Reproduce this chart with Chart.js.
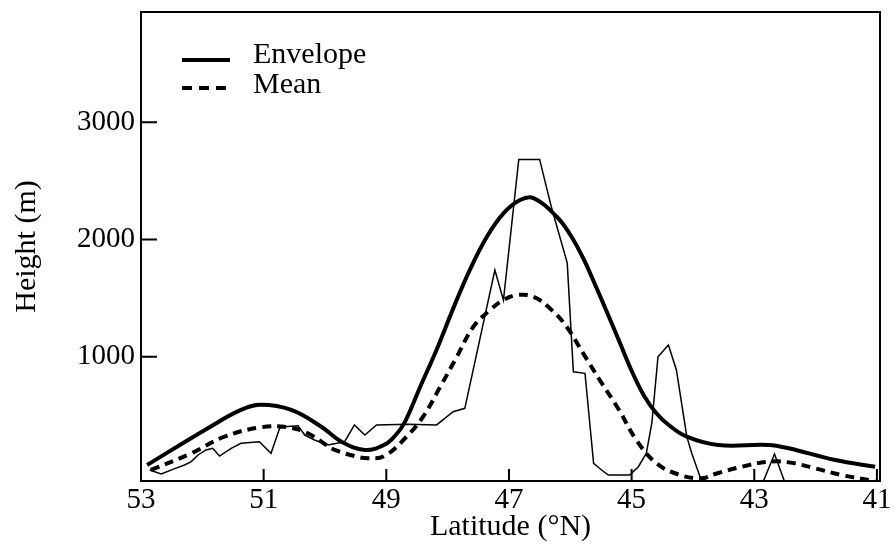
<!DOCTYPE html>
<html>
<head>
<meta charset="utf-8">
<script src="https://cdn.jsdelivr.net/npm/chart.js@4.4.1/dist/chart.umd.min.js"></script>
<style>
  html, body { margin: 0; padding: 0; background: #ffffff; }
  #wrap { width: 895px; height: 556px; }
</style>
</head>
<body>
<div id="wrap"><canvas id="c" width="895" height="556"></canvas></div>
<script>
// ---- data ----
const xTickLabels = [53, 51, 49, 47, 45, 43, 41];
const yTickLabels = [1000, 2000, 3000];

const envelopeLat = [52.9, 51.91, 51.37, 51.04, 50.55, 50.06, 49.73, 49.35, 49.03, 48.85, 48.7, 48.45, 48.18, 47.91, 47.64, 47.36, 47.09, 46.82, 46.6, 46.22, 46.0, 45.79, 45.6, 45.41, 45.2, 45.0, 44.8, 44.6, 44.4, 44.1, 43.59, 42.77, 42.44, 41.68, 41.03];
const envelopeHeight = [77, 390, 546, 590, 546, 403, 275, 205, 250, 330, 440, 740, 1060, 1410, 1739, 2023, 2222, 2336, 2352, 2194, 2040, 1840, 1620, 1390, 1130, 880, 670, 520, 420, 318, 247, 247, 219, 119, 62];

const meanLat = [52.84, 52.18, 51.64, 51.04, 50.6, 50.28, 49.98, 49.84, 49.52, 49.3, 49.03, 48.67, 48.4, 48.12, 47.85, 47.58, 47.31, 47.09, 46.87, 46.6, 46.33, 46.06, 45.79, 45.52, 45.21, 44.92, 44.59, 44.21, 43.86, 43.64, 43.2, 42.77, 42.44, 42.01, 41.57, 41.03];
const meanHeight = [34, 176, 318, 398, 398, 347, 247, 205, 153, 134, 153, 318, 489, 744, 1000, 1256, 1398, 1483, 1526, 1511, 1412, 1256, 1029, 801, 550, 287, 89, -9, -37, 0, 62, 104, 99, 48, -10, -60];

const terrainLat = [52.86, 52.67, 52.46, 52.29, 52.18, 52.07, 51.94, 51.83, 51.72, 51.53, 51.37, 51.07, 50.88, 50.74, 50.66, 50.44, 50.33, 50.17, 49.95, 49.68, 49.52, 49.35, 49.16, 48.65, 48.18, 47.91, 47.72, 47.23, 47.09, 46.84, 46.5, 46.31, 46.05, 45.95, 45.76, 45.62, 45.49, 45.38, 45.03, 44.89, 44.76, 44.67, 44.57, 44.4, 44.27, 44.1, 44.02, 43.86, 43.4, 42.85, 42.67, 42.51];
const terrainHeight = [34, 0, 43, 77, 105, 162, 205, 219, 153, 219, 262, 275, 176, 390, 403, 412, 332, 290, 247, 275, 418, 332, 418, 425, 418, 531, 560, 1739, 1483, 2683, 2683, 2279, 1800, 872, 858, 91, 34, -9, -9, 62, 176, 435, 1000, 1100, 887, 318, 176, -60, null, -60, 170, -60];

const seriesNames = ['Envelope', 'Mean', 'Terrain'];
const xTitle = 'Latitude (°N)';
const yTitle = 'Height (m)';

// ---- helpers ----
function pairs(xs, ys) { return xs.map((x, i) => ({ x: x, y: ys[i] })); }
const SERIF = "'Liberation Serif', 'DejaVu Serif', serif";

const framePlugin = {
  id: 'frameTicks',
  afterDraw(chart) {
    const ctx = chart.ctx;
    const a = chart.chartArea;
    const xs = chart.scales.x, ys = chart.scales.y;
    ctx.save();
    ctx.strokeStyle = '#000';
    ctx.lineWidth = 2;
    ctx.strokeRect(a.left, a.top, a.right - a.left, a.bottom - a.top);
    ctx.beginPath();
    xs.ticks.forEach(t => {
      const px = xs.getPixelForValue(t.value);
      if (Math.abs(px - a.left) < 3 || Math.abs(px - a.right) < 3) return;
      ctx.moveTo(px, a.bottom);
      ctx.lineTo(px, a.bottom - 12);
    });
    ys.ticks.forEach(t => {
      const py = ys.getPixelForValue(t.value);
      ctx.moveTo(a.left, py);
      ctx.lineTo(a.left + 16, py);
    });
    ctx.stroke();
    ctx.restore();
  }
};

const legendPlugin = {
  id: 'innerLegend',
  afterDraw(chart) {
    const ctx = chart.ctx;
    const a = chart.chartArea;
    ctx.save();
    ctx.font = '30px ' + SERIF;
    ctx.fillStyle = '#000';
    ctx.textBaseline = 'alphabetic';
    ctx.textAlign = 'left';
    [0, 1].forEach((di, r) => {
      const ds = chart.data.datasets[di];
      const ly = a.top + 48 + r * 28;
      ctx.beginPath();
      ctx.strokeStyle = ds.borderColor;
      ctx.lineWidth = ds.borderWidth;
      ctx.setLineDash(ds.borderDash ? [10, 7] : []);
      ctx.moveTo(a.left + 41, ly);
      ctx.lineTo(a.left + 89, ly);
      ctx.stroke();
      ctx.setLineDash([]);
      ctx.fillText(ds.label, a.left + 112, a.top + 51 + r * 30);
    });
    ctx.restore();
  }
};

new Chart(document.getElementById('c'), {
  type: 'line',
  data: {
    datasets: [
      {
        label: seriesNames[0],
        data: pairs(envelopeLat, envelopeHeight),
        borderColor: '#000',
        borderWidth: 4,
        pointRadius: 0,
        tension: 0.4,
        fill: false
      },
      {
        label: seriesNames[1],
        data: pairs(meanLat, meanHeight),
        borderColor: '#000',
        borderWidth: 4,
        borderDash: [9, 6],
        pointRadius: 0,
        tension: 0.4,
        fill: false
      },
      {
        label: seriesNames[2],
        data: pairs(terrainLat, terrainHeight),
        borderColor: '#000',
        borderWidth: 1.5,
        pointRadius: 0,
        tension: 0,
        spanGaps: false,
        fill: false
      }
    ]
  },
  options: {
    responsive: false,
    animation: false,
    events: [],
    layout: { padding: { left: 0, right: 15, top: 12, bottom: 0 } },
    plugins: {
      legend: { display: false },
      tooltip: { enabled: false }
    },
    scales: {
      x: {
        type: 'linear',
        reverse: true,
        min: 40.95,
        max: 53,
        afterBuildTicks(scale) { scale.ticks = xTickLabels.map(v => ({ value: v })); },
        afterFit(scale) { scale.height = 75; scale.paddingLeft = 0; scale.paddingRight = 0; },
        grid: { display: false, drawTicks: false },
        border: { display: false },
        ticks: {
          color: '#000',
          font: { family: SERIF, size: 29 },
          padding: 2,
          maxRotation: 0,
          autoSkip: false,
          callback: v => String(v)
        },
        title: {
          display: true,
          text: xTitle,
          color: '#000',
          font: { family: SERIF, size: 30 },
          padding: { top: 0, bottom: 11 }
        }
      },
      y: {
        type: 'linear',
        min: -60,
        max: 3940,
        afterBuildTicks(scale) { scale.ticks = yTickLabels.map(v => ({ value: v })); },
        afterFit(scale) { scale.width = 141; scale.paddingTop = 0; scale.paddingBottom = 0; },
        grid: { display: false, drawTicks: false },
        border: { display: false },
        ticks: {
          color: '#000',
          font: { family: SERIF, size: 29 },
          padding: 6,
          autoSkip: false,
          callback: v => String(v)
        },
        title: {
          display: true,
          text: yTitle,
          color: '#000',
          font: { family: SERIF, size: 30 },
          padding: { top: 9, bottom: 0 }
        }
      }
    }
  },
  plugins: [framePlugin, legendPlugin]
});
</script>
</body>
</html>
